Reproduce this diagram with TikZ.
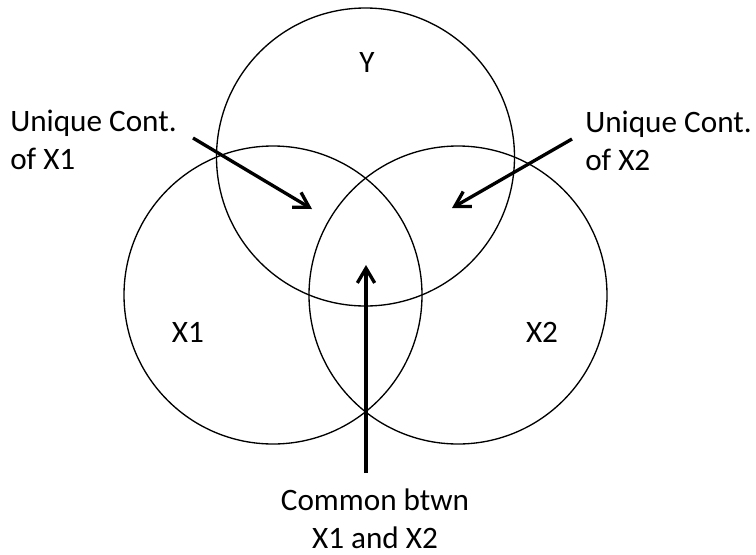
\documentclass[tikz,border=0pt]{standalone}
\usepackage{fontspec}
\setmainfont{Carlito}
\usetikzlibrary{arrows.meta}
\tikzstyle{venn} = [circle, draw, line width=1pt, minimum size=223.5pt, inner sep=0pt, outer sep=0pt]
\tikzstyle{lbl} = [font=\fontsize{23.4}{27.8}\selectfont, inner sep=0pt]
\tikzstyle{arrow} = [-{Straight Barb[length=11pt, width=13pt]}, line width=2.5pt]

\begin{document}
\begin{tikzpicture}[x=0.75pt, y=-0.75pt]
    \useasboundingbox (0,0) rectangle (756,554);

    % Circles
    \node[venn] (Y) at (365.5,157) {};
    \node[venn] (X1) at (273,295) {};
    \node[venn] (X2) at (458,295) {};

    % Circle labels
    \node[lbl, anchor=base] (ylab) at (367,72) {Y};
    \node[lbl, anchor=base] (x1lab) at (188,342) {X1};
    \node[lbl, anchor=base] (x2lab) at (542,342) {X2};

    % Pointer labels (base = last line)
    \node[lbl, anchor=base west, align=left] (uniq1) at (10,169) {Unique Cont.\\of X1};
    \node[lbl, anchor=base west, align=left] (uniq2) at (585,170) {Unique Cont.\\of X2};
    \node[lbl, anchor=base, align=center] (common) at (375,548) {Common btwn\\X1 and X2};

    % Pointers
    \coordinate (t1) at (193,138);
    \coordinate (h1) at (312,209);
    \coordinate (t2) at (572,139);
    \coordinate (h2) at (452,208);
    \coordinate (t3) at (366,473);
    \coordinate (h3) at (366,265);
    \draw[arrow] (t1) -- (h1);
    \draw[arrow] (t2) -- (h2);
    \draw[arrow] (t3) -- (h3);
\end{tikzpicture}
\end{document}
